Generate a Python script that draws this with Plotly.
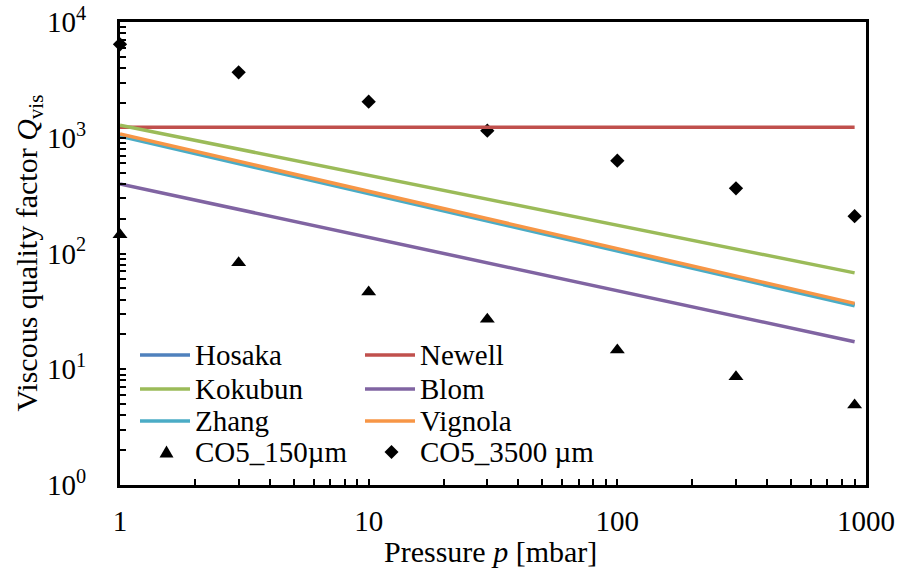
import plotly.graph_objects as go

# Pressure values (mbar)
pressure_model = [1, 3, 10, 30, 100, 300, 900]
pressure_exp = [1, 3, 10, 30, 100, 300, 900]

# Model predictions of the viscous quality factor
hosaka = [1050, 612, 337, 195, 107, 62.5, 36.2]
newell = [1230, 1230, 1230, 1230, 1230, 1230, 1230]
kokubun = [1280, 798, 474, 295, 175, 109, 68]
blom = [399, 240, 138, 83, 47.6, 28.7, 17.3]
zhang = [1029, 598, 329, 191, 105, 61, 35.4]
vignola = [1078, 626, 345, 200, 110, 64, 37.1]

# Measured values
q_150um = [145, 83.3, 46.5, 27.0, 14.7, 8.6, 4.9]
q_3500um = [6420, 3675, 2050, 1151, 634, 366, 210]

# Tick labels
x_decades = [1, 10, 100, 1000]
x_labels = ["1", "10", "100", "1000"]
y_decades = [1, 10, 100, 1000, 10000]
y_labels = ["10<sup>0</sup>", "10<sup>1</sup>", "10<sup>2</sup>", "10<sup>3</sup>", "10<sup>4</sup>"]

FONT = '"Liberation Serif", "Times New Roman", serif'
FS = 29
FS_TITLE = 30

models = [
    ("Hosaka", hosaka, "#4F81BD"),
    ("Newell", newell, "#C0504D"),
    ("Kokubun", kokubun, "#9BBB59"),
    ("Blom", blom, "#8064A2"),
    ("Zhang", zhang, "#4BACC6"),
    ("Vignola", vignola, "#F79646"),
]
measured = [
    ("CO5_150µm", q_150um, "triangle-up", 13),
    ("CO5_3500 µm", q_3500um, "diamond", 11),
]

fig = go.Figure()
for name, vals, sym, size in measured:
    fig.add_trace(go.Scatter(
        x=pressure_exp, y=vals, mode="markers", name=name,
        marker=dict(symbol=sym, size=size, color="black"),
        cliponaxis=False, showlegend=False))
for name, vals, color in models:
    fig.add_trace(go.Scatter(
        x=pressure_model, y=vals, mode="lines", name=name,
        line=dict(color=color, width=3.5), showlegend=False))


def minor_vals(decades):
    """Intermediate 2..9 multiples inside each decade."""
    return [d * m for d in decades[:-1] for m in range(2, 10)]


W, H = 898, 575
ML, MR, MT, MB = 120, 32, 22, 90
PW, PH = W - ML - MR, H - MT - MB


def px(xp, yp):
    return (xp - ML) / PW, (H - MB - yp) / PH


# Legend (two columns)
legend_rows = [
    [("Hosaka", "#4F81BD"), ("Newell", "#C0504D")],
    [("Kokubun", "#9BBB59"), ("Blom", "#8064A2")],
    [("Zhang", "#4BACC6"), ("Vignola", "#F79646")],
]
row_y = [355, 389, 421]
col_line = [(140, 190), (365, 415)]
col_text = [193, 418]
shapes, annotations = [], []
for r, row in enumerate(legend_rows):
    for c, (name, color) in enumerate(row):
        x0, y0 = px(col_line[c][0], row_y[r])
        x1, _ = px(col_line[c][1], row_y[r])
        shapes.append(dict(type="line", xref="paper", yref="paper",
                           x0=x0, x1=x1, y0=y0, y1=y0,
                           line=dict(color=color, width=3.5)))
        tx, ty = px(col_text[c], row_y[r])
        annotations.append(dict(xref="paper", yref="paper", x=tx, y=ty,
                                text=name, showarrow=False, xanchor="left",
                                yanchor="middle",
                                font=dict(family=FONT, size=FS, color="black")))

# Marker entries of the legend
my = 452
tri = [(166.5 - 7, my + 5.5), (166.5 + 7, my + 5.5), (166.5, my - 6.5)]
path = "M " + " L ".join("{},{}".format(*px(a, b)) for a, b in tri) + " Z"
shapes.append(dict(type="path", xref="paper", yref="paper", path=path,
                   fillcolor="black", line=dict(color="black", width=0)))
dia = [(391.5 - 7, my), (391.5, my - 7), (391.5 + 7, my), (391.5, my + 7)]
path = "M " + " L ".join("{},{}".format(*px(a, b)) for a, b in dia) + " Z"
shapes.append(dict(type="path", xref="paper", yref="paper", path=path,
                   fillcolor="black", line=dict(color="black", width=0)))
for name, xt_ in (("CO5_150µm", col_text[0]), ("CO5_3500 µm", col_text[1])):
    tx, ty = px(xt_, my)
    annotations.append(dict(xref="paper", yref="paper", x=tx, y=ty,
                            text=name, showarrow=False, xanchor="left",
                            yanchor="middle",
                            font=dict(family=FONT, size=FS, color="black")))

# Y-axis title placed beside the tick labels
tx, ty = px(28, (MT + H - MB) / 2)
annotations.append(dict(xref="paper", yref="paper", x=tx, y=ty,
                        text="Viscous quality factor <i>Q</i><sub>vis</sub>",
                        textangle=-90, showarrow=False, xanchor="center",
                        yanchor="middle",
                        font=dict(family=FONT, size=FS_TITLE, color="black")))
# X-axis title
tx, ty = px(490, 551)
annotations.append(dict(xref="paper", yref="paper", x=tx, y=ty,
                        text="Pressure <i>p</i> [mbar]",
                        showarrow=False, xanchor="center", yanchor="middle",
                        font=dict(family=FONT, size=FS_TITLE, color="black")))

axis_common = dict(
    showgrid=False, zeroline=False, showline=True, linecolor="black",
    linewidth=3, mirror=True, ticks="inside", ticklen=6, tickwidth=2,
    tickcolor="black", tickfont=dict(family=FONT, size=FS, color="black"),
    automargin=False,
)

fig.update_layout(
    width=W, height=H,
    margin=dict(l=ML, r=MR, t=MT, b=MB),
    paper_bgcolor="white", plot_bgcolor="white",
    font=dict(family=FONT, size=FS, color="black"),
    showlegend=False,
    shapes=shapes, annotations=annotations,
    xaxis=dict(type="log", range=[0, 3], tickmode="array",
               tickvals=x_decades, ticktext=x_labels, ticklabelstandoff=8,
               minor=dict(tickmode="array", tickvals=minor_vals(x_decades),
                          ticks="inside", ticklen=6, tickwidth=2,
                          tickcolor="black", showgrid=False),
               **axis_common),
    yaxis=dict(type="log", range=[0, 4], tickmode="array",
               tickvals=y_decades, ticktext=y_labels, ticklabelstandoff=25,
               minor=dict(tickmode="array", tickvals=minor_vals(y_decades),
                          ticks="inside", ticklen=6, tickwidth=2,
                          tickcolor="black", showgrid=False),
               **axis_common),
)

fig.write_html("out.html")
